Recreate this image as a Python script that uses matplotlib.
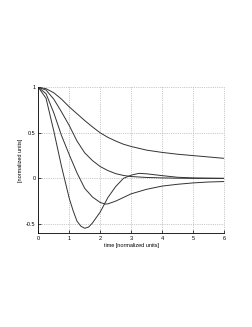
"""
Normalized step-response style curves on a MATLAB-like grid.
"""
import matplotlib
matplotlib.use("Agg")
import matplotlib.pyplot as plt

# ------------------------------------------------------------
# Data (time in normalized units)
# ------------------------------------------------------------
t_a = [0, 0.25, 0.5, 0.75, 1.0, 1.25, 1.5, 1.75, 2.0, 2.25, 2.5, 2.75,
       3.0, 3.5, 4.0, 4.5, 5.0, 5.5, 6.0]
y_a = [1.0, 0.985, 0.94, 0.87, 0.785, 0.71, 0.635, 0.565, 0.5, 0.45, 0.41,
       0.375, 0.35, 0.31, 0.285, 0.265, 0.25, 0.235, 0.22]

t_b = [0, 0.25, 0.5, 0.75, 1.0, 1.25, 1.5, 1.75, 2.0, 2.25, 2.5, 2.75,
       3.0, 3.5, 4.0, 4.5, 5.0, 5.5, 6.0]
y_b = [1.0, 0.97, 0.87, 0.73, 0.58, 0.41, 0.28, 0.195, 0.13, 0.085, 0.052,
       0.032, 0.02, 0.01, 0.005, 0.002, 0.0, 0.0, 0.0]

t_c = [0, 0.25, 0.5, 0.75, 1.0, 1.25, 1.5, 1.75, 2.0, 2.16, 2.25, 2.5,
       2.75, 3.0, 3.5, 4.0, 4.5, 5.0, 5.5, 6.0]
y_c = [1.0, 0.93, 0.72, 0.47, 0.26, 0.06, -0.11, -0.205, -0.265, -0.282,
       -0.28, -0.25, -0.21, -0.17, -0.12, -0.085, -0.065, -0.05, -0.04,
       -0.035]

t_d = [0, 0.25, 0.5, 0.75, 0.875, 1.0, 1.125, 1.25, 1.375, 1.5, 1.625,
       1.75, 2.0, 2.25, 2.5, 2.75, 3.0, 3.25, 3.5, 4.0, 4.5, 5.0, 5.5, 6.0]
y_d = [1.0, 0.88, 0.52, 0.13, -0.045, -0.22, -0.355, -0.47, -0.525, -0.548,
       -0.535, -0.49, -0.37, -0.21, -0.09, 0.0, 0.035, 0.055, 0.05, 0.03,
       0.012, 0.005, 0.002, 0.0]

x_ticks = [0, 1, 2, 3, 4, 5, 6]
y_ticks = [-0.5, 0, 0.5, 1]
y_tick_labels = ["-0.5", "0", "0.5", "1"]

# ------------------------------------------------------------
# Figure
# ------------------------------------------------------------
plt.rcParams["font.family"] = ["Liberation Sans", "DejaVu Sans"]

fig = plt.figure(figsize=(2.53, 3.27), dpi=100)
ax = fig.add_axes([0.1514, 0.2875, 0.734, 0.4455])

for t, y in [(t_a, y_a), (t_b, y_b), (t_c, y_c), (t_d, y_d)]:
    ax.plot(t, y, color="#333333", linewidth=0.7)

ax.set_xlim(0, 6)
ax.set_ylim(-0.6, 1)
ax.set_xticks(x_ticks)
ax.set_yticks(y_ticks)
ax.set_yticklabels(y_tick_labels)

ax.grid(True, linestyle=":", color="#999999", linewidth=0.5)
for line in ax.get_xgridlines() + ax.get_ygridlines():
    line.set_clip_on(False)

ax.spines["top"].set_visible(False)
ax.spines["right"].set_visible(False)
for side in ["left", "bottom"]:
    ax.spines[side].set_linewidth(0.6)

ax.tick_params(direction="in", length=2, width=0.5, labelsize=4, pad=2)

ax.set_xlabel("time [normalized units]", fontsize=4, labelpad=1.5)
ax.set_ylabel("[normalized units]", fontsize=4, labelpad=2)

fig.savefig("out.png", dpi=100)
